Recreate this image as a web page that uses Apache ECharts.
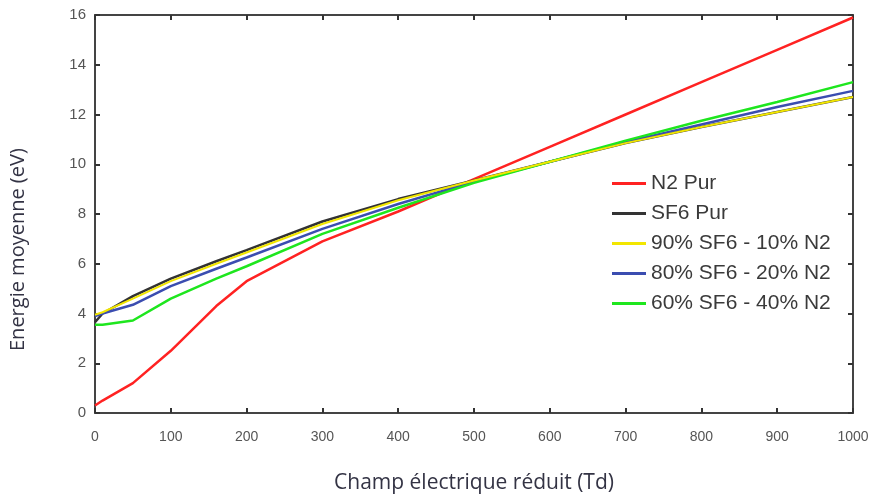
<!DOCTYPE html>
<html><head><meta charset="utf-8">
<script src="https://cdn.jsdelivr.net/npm/echarts@6/dist/echarts.min.js"></script>
<style>html,body{margin:0;padding:0;background:#fff}#c{width:874px;height:495px}</style>
</head><body><div id="c"></div>
<script>
const xValues = [0, 10, 50, 100, 160, 200, 300, 400, 500, 600, 700, 800, 900, 1000];
const n2Pur   = [0.3, 0.5, 1.2, 2.5, 4.3, 5.3, 6.9, 8.1, 9.4, 10.7, 12.0, 13.3, 14.6, 15.9];
const sf6Pur  = [3.65, 4.0, 4.7, 5.4, 6.1, 6.55, 7.7, 8.6, 9.35, 10.1, 10.85, 11.5, 12.1, 12.7];
const sf6_90  = [3.95, 4.05, 4.6, 5.3, 6.0, 6.45, 7.6, 8.55, 9.35, 10.1, 10.85, 11.5, 12.1, 12.7];
const sf6_80  = [3.9, 4.0, 4.35, 5.1, 5.8, 6.25, 7.4, 8.4, 9.3, 10.1, 10.9, 11.6, 12.3, 12.95];
const sf6_60  = [3.55, 3.55, 3.72, 4.6, 5.4, 5.9, 7.2, 8.25, 9.25, 10.1, 10.95, 11.75, 12.5, 13.3];
const seriesNames = ['N2 Pur', 'SF6 Pur', '90% SF6 - 10% N2', '80% SF6 - 20% N2', '60% SF6 - 40% N2'];
const seriesData = [n2Pur, sf6Pur, sf6_90, sf6_80, sf6_60];
const colors = ['#ff2222', '#333333', '#f2e600', '#3b4db0', '#1ee61e'];
const xTitle = 'Champ électrique réduit (Td)';
const yTitle = 'Energie moyenne (eV)';

const chart = echarts.init(document.getElementById('c'));
const axisLine = {show: true, onZero: false, lineStyle: {color: '#444', width: 2}};
const tick = {show: true, inside: true, length: 5, lineStyle: {color: '#333', width: 2}};
const lbl = {color: '#555', fontSize: 14, fontFamily: 'Liberation Sans, Arial', formatter: v => String(v)};
chart.setOption({
  animation: false,
  grid: {left: 95, right: 21, top: 15, bottom: 82, outerBoundsMode: 'none', containLabel: false},
  legend: {
    orient: 'vertical', left: 607, top: 168,
    itemWidth: 34, itemHeight: 3, itemGap: 9,
    icon: 'rect',
    textStyle: {color: '#3a3a3a', fontSize: 21, fontFamily: 'Liberation Sans, Arial'},
    data: seriesNames
  },
  graphic: [{
    type: 'text', rotation: Math.PI / 2,
    x: 8, y: 351,
    style: {text: yTitle, fill: '#333344', fontSize: 20, fontFamily: 'Open Sans, Noto Sans'},
    silent: true
  }],
  xAxis: [{
    type: 'value', min: 0, max: 1000, interval: 100,
    axisLine, axisTick: tick, splitLine: {show: false},
    axisLabel: Object.assign({margin: 17}, lbl),
    name: xTitle, nameLocation: 'middle', nameGap: 60,
    nameTextStyle: {color: '#333344', fontSize: 21, fontFamily: 'Open Sans, Noto Sans'}
  }, {
    type: 'value', min: 0, max: 1000, interval: 100, position: 'top',
    axisLine, axisTick: tick, axisLabel: {show: false}, splitLine: {show: false}
  }],
  yAxis: [{
    type: 'value', min: 0, max: 16, interval: 2,
    axisLine, axisTick: tick, splitLine: {show: false},
    axisLabel: Object.assign({margin: 9}, lbl, {fontSize: 15})
  }, {
    type: 'value', min: 0, max: 16, interval: 2, position: 'right',
    axisLine, axisTick: tick, axisLabel: {show: false}, splitLine: {show: false}
  }],
  series: seriesNames.map((name, i) => ({
    name, type: 'line', showSymbol: false, symbol: 'none',
    data: xValues.map((x, j) => [x, seriesData[i][j]]),
    lineStyle: {color: colors[i], width: i === 2 ? 2 : 2.5},
    itemStyle: {color: colors[i]},
    z: i === 0 ? 2 : 3 + (i === 2 ? 1 : 0)
  }))
});
</script></body></html>
